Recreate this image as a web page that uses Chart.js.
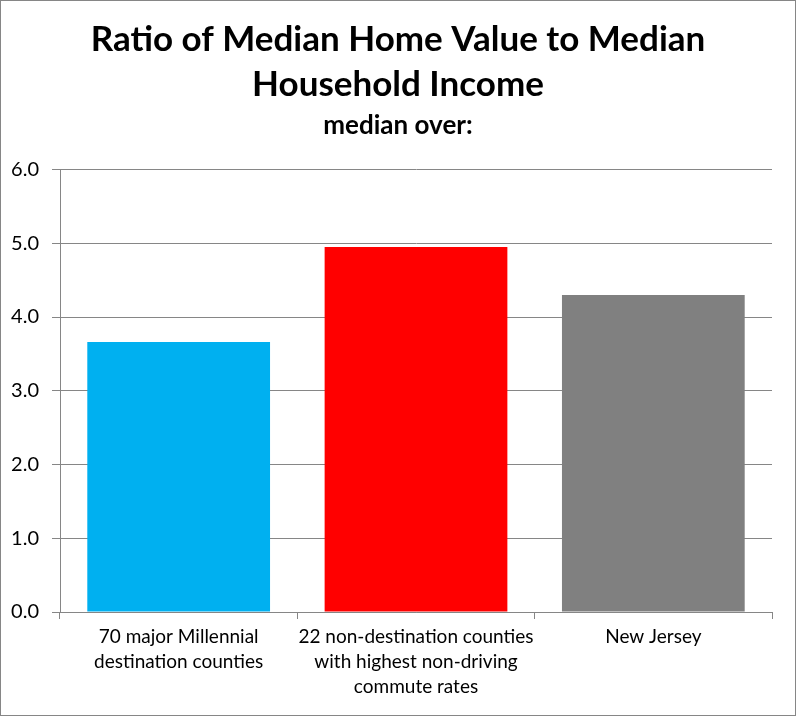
<!DOCTYPE html>
<html>
<head>
<meta charset="utf-8">
<script src="https://cdn.jsdelivr.net/npm/chart.js@4"></script>
<style>
html,body{margin:0;padding:0;background:#fff;}
#wrap{width:796px;height:716px;position:relative;}
</style>
</head>
<body>
<div id="wrap"><canvas id="c" width="796" height="716"></canvas></div>
<script>
const categories = [
  ["70 major Millennial", "destination counties"],
  ["22 non-destination counties", "with highest non-driving", "commute rates"],
  "New Jersey"
];
const ratioValues = [3.66, 4.95, 4.30];
const barColors = ["#00B0F0", "#FF0000", "#808080"];
const yTicks = [0, 1, 2, 3, 4, 5, 6];
const titleLines = ["Ratio of Median Home Value to Median", "Household Income"];
const subtitleText = "median over:";

const FONT = "Lato, 'Open Sans', sans-serif";
const GRID = "#868686";

const borderPlugin = {
  id: 'outerBorder',
  afterDraw(chart) {
    const ctx = chart.ctx;
    ctx.save();
    ctx.strokeStyle = GRID;
    ctx.lineWidth = 1;
    ctx.strokeRect(0.5, 0.5, chart.width - 1, chart.height - 1);
    ctx.restore();
  }
};

new Chart(document.getElementById('c'), {
  type: 'bar',
  data: {
    labels: categories,
    datasets: [{
      data: ratioValues,
      backgroundColor: barColors,
      borderWidth: 0,
      barPercentage: 0.77,
      categoryPercentage: 1.0
    }]
  },
  options: {
    responsive: false,
    animation: false,
    devicePixelRatio: 1,
    layout: { padding: { top: 0, right: 0, bottom: 0, left: 0 } },
    plugins: {
      legend: { display: false },
      tooltip: { enabled: false },
      title: {
        display: true,
        text: titleLines,
        color: '#000',
        font: { family: FONT, size: 35, weight: 'bold', lineHeight: 1.29 },
        padding: { top: 17, bottom: 3 }
      },
      subtitle: {
        display: true,
        text: subtitleText,
        color: '#000',
        font: { family: FONT, size: 26, weight: 'bold', lineHeight: 1.2 },
        padding: { top: 0, bottom: 28 }
      }
    },
    scales: {
      x: {
        offset: true,
        grid: {
          offset: true,
          drawOnChartArea: false,
          drawTicks: true,
          tickLength: 7,
          color: GRID,
          lineWidth: 1
        },
        border: { display: true, color: GRID, width: 1 },
        ticks: {
          color: '#000',
          font: { family: FONT, size: 19, lineHeight: 1.33 },
          padding: 5,
          maxRotation: 0,
          autoSkip: false
        },
        afterFit(scale) { scale.height = 104; }
      },
      y: {
        min: 0,
        max: 6,
        afterBuildTicks(scale) { scale.ticks = yTicks.map(v => ({ value: v })); },
        grid: {
          color: GRID,
          lineWidth: 1,
          drawTicks: true,
          tickLength: 8
        },
        border: { display: true, color: GRID, width: 1 },
        ticks: {
          color: '#000',
          font: { family: FONT, size: 20 },
          padding: 13,
          callback: v => Number(v).toFixed(1)
        },
        afterFit(scale) { scale.width = 60; }
      },
      yRight: {
        position: 'right',
        display: true,
        min: 0,
        max: 6,
        grid: { display: false, drawTicks: false },
        border: { display: false },
        ticks: { display: false },
        afterFit(scale) { scale.width = 24; }
      }
    }
  },
  plugins: [borderPlugin]
});
</script>
</body>
</html>
